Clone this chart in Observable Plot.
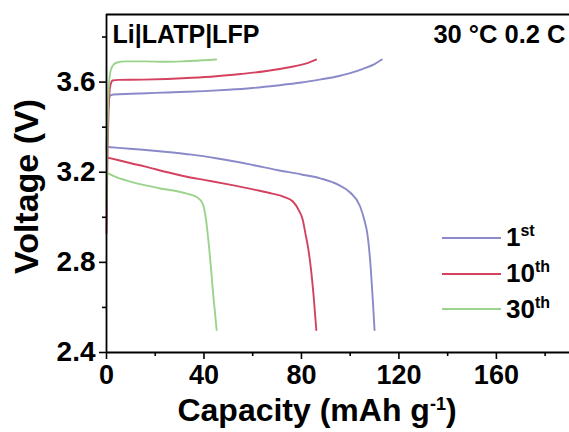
<!DOCTYPE html>
<html><head><meta charset="utf-8">
<script src="https://cdn.jsdelivr.net/npm/d3@7"></script>
<script src="https://cdn.jsdelivr.net/npm/@observablehq/plot@0.6"></script>
<style>
body{margin:0;background:#fff;}
#wrap{position:relative;width:569px;height:432px;font-family:"Liberation Sans",Arial,sans-serif;}
#legend{position:absolute;left:442px;top:220px;font-weight:bold;font-size:26px;color:#000;}
.row{display:flex;align-items:center;height:35.7px;}
.sw{width:59px;height:2px;margin-right:5px;}
.row sup{font-size:16px;position:relative;top:-10px;vertical-align:baseline;}
</style>
</head><body>
<div id="wrap"><div id="legend"></div></div>
<script>
const cycles = ["1st", "10th", "30th"];
const cycleNum = ["1", "10", "30"];
const cycleSup = ["st", "th", "th"];
const colors = ["#8a8ac9", "#d4425f", "#9cd38c"];

// 1st cycle
const cap1Charge = [0, 0.3, 0.8, 1.5, 3, 10, 20, 30, 40, 50, 60, 70, 80, 88, 95, 100, 105, 110, 113];
const v1Charge   = [3.30, 3.40, 3.50, 3.54, 3.545, 3.548, 3.552, 3.556, 3.560, 3.566, 3.574, 3.585, 3.598, 3.612, 3.626, 3.640, 3.658, 3.680, 3.700];
const cap1Dis = [0.5, 5, 15, 25, 35, 45, 55, 61, 70, 80, 88, 95, 100, 104, 106, 107, 108.4, 109.3, 110];
const v1Dis   = [3.312, 3.308, 3.300, 3.290, 3.278, 3.262, 3.243, 3.230, 3.210, 3.190, 3.172, 3.145, 3.110, 3.050, 2.980, 2.930, 2.780, 2.630, 2.500];
// 10th cycle
const cap10Charge = [0, 0.3, 0.8, 1.5, 2.5, 5, 15, 25, 35, 45, 55, 65, 75, 82, 86];
const v10Charge   = [2.93, 3.20, 3.45, 3.58, 3.607, 3.610, 3.611, 3.614, 3.619, 3.626, 3.636, 3.648, 3.666, 3.683, 3.700];
const cap10Dis = [0.5, 5, 10, 16, 25, 33, 40, 50, 61, 68, 73, 76.5, 79, 80.5, 81.6, 82.8, 83.8, 85, 86.1];
const v10Dis   = [3.265, 3.253, 3.240, 3.225, 3.200, 3.180, 3.166, 3.146, 3.122, 3.105, 3.090, 3.070, 3.030, 2.990, 2.930, 2.860, 2.780, 2.650, 2.500];
// 30th cycle
const cap30Charge = [0, 0.3, 0.8, 1.5, 2.5, 4, 8, 16, 24, 31, 38, 45];
const v30Charge   = [3.05, 3.30, 3.55, 3.64, 3.672, 3.686, 3.692, 3.692, 3.690, 3.692, 3.696, 3.700];
const cap30Dis = [0.5, 4, 8, 12, 16, 22, 28, 33, 37, 39.5, 40.7, 41.5, 42.2, 43, 43.6, 44.4, 45.2];
const v30Dis   = [3.196, 3.178, 3.164, 3.152, 3.142, 3.128, 3.118, 3.105, 3.090, 3.060, 3.000, 2.930, 2.855, 2.760, 2.680, 2.590, 2.500];

const xDomain = [0, 190];
const yDomain = [2.4, 3.9];
const xMajor = [0, 40, 80, 120, 160];
const xMinor = [20, 60, 100, 140, 180];
const yMajor = [2.4, 2.8, 3.2, 3.6];
const yMinor = [2.6, 3.0, 3.4, 3.8];
const xLabelText = "Capacity (mAh g-1)";
const yLabelText = "Voltage (V)";
const cellText = "Li|LATP|LFP";
const condText = "30 °C 0.2 C";

const series = [
  [cycles[0], "c", cap1Charge, v1Charge],
  [cycles[0], "d", cap1Dis, v1Dis],
  [cycles[1], "c", cap10Charge, v10Charge],
  [cycles[1], "d", cap10Dis, v10Dis],
  [cycles[2], "c", cap30Charge, v30Charge],
  [cycles[2], "d", cap30Dis, v30Dis]
];
const rows = series.flatMap(([cycle, seg, xs, ys]) => xs.map((x, i) => ({cycle, key: cycle + seg, cap: x, v: ys[i]})));

const chart = Plot.plot({
  width: 569,
  height: 432,
  marginLeft: 106,
  marginTop: 14,
  marginRight: 0,
  marginBottom: 80,
  style: {fontFamily: "'Liberation Sans', Arial, sans-serif", color: "#000", background: "#fff", overflow: "visible"},
  x: {domain: xDomain},
  y: {domain: yDomain},
  color: {domain: cycles, range: colors},
  marks: [
    Plot.line(rows, {x: "cap", y: "v", z: "key", stroke: "cycle", strokeWidth: 1.9, curve: "monotone-x"}),
    Plot.ruleX([xDomain[0]], {strokeWidth: 1.8}),
    Plot.ruleY([yDomain[0]], {strokeWidth: 1.8}),
    Plot.ruleY([yDomain[1]], {strokeWidth: 1.8}),
    Plot.axisX({ticks: xMajor, tickSize: 7, tickPadding: 5, fontSize: 27, fontWeight: "bold", strokeWidth: 1.6, label: null}),
    Plot.axisX({ticks: xMinor, tickSize: 4, text: null, strokeWidth: 1.6, label: null}),
    Plot.axisY({ticks: yMajor, tickSize: 7, tickPadding: 4, fontSize: 28, fontWeight: "bold", strokeWidth: 1.6, label: null, tickFormat: d => d.toFixed(1)}),
    Plot.axisY({ticks: yMinor, tickSize: 4, text: null, strokeWidth: 1.6, label: null}),
    Plot.text([cellText], {frameAnchor: "top-left", textAnchor: "start", lineAnchor: "middle", dx: 6, dy: 20, fontSize: 25, fontWeight: "bold"}),
    Plot.text([condText], {frameAnchor: "top-right", textAnchor: "end", lineAnchor: "middle", dx: -4, dy: 20, fontSize: 25.5, fontWeight: "bold"}),
    Plot.text([xLabelText], {frameAnchor: "bottom", textAnchor: "middle", lineAnchor: "middle", dx: -21, dy: 58, fontSize: 32, fontWeight: "bold"}),
    Plot.text([yLabelText], {frameAnchor: "left", textAnchor: "middle", lineAnchor: "middle", rotate: -90, dx: -79, dy: 3, fontSize: 34, fontWeight: "bold"})
  ]
});

// superscript on the x label
d3.select(chart).selectAll("text").filter(function() { return this.textContent === xLabelText; }).each(function() {
  const t = d3.select(this);
  t.text(null);
  t.append("tspan").text("Capacity (mAh g");
  t.append("tspan").attr("font-size", 18).attr("dy", -11).text("-1");
  t.append("tspan").attr("dy", 11).text(")");
});

const wrap = document.getElementById("wrap");
wrap.insertBefore(chart, wrap.firstChild);

const legend = d3.select("#legend");
cycles.forEach((c, i) => {
  const row = legend.append("div").attr("class", "row");
  row.append("div").attr("class", "sw").style("background", colors[i]);
  const lab = row.append("span");
  lab.append("span").text(cycleNum[i]);
  lab.append("sup").text(cycleSup[i]);
});
</script>
</body></html>
